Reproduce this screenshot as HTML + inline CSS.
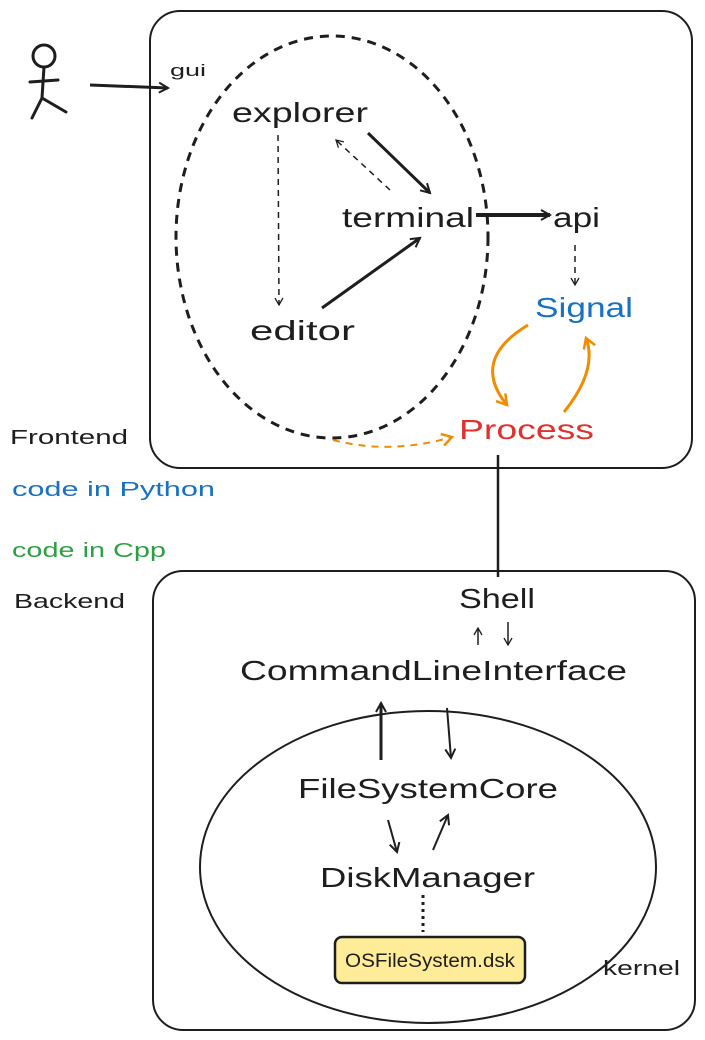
<!DOCTYPE html>
<html><head><meta charset="utf-8"><style>
html,body{margin:0;padding:0;background:#fff;}
svg{display:block;}
text{font-family:"Liberation Sans",sans-serif;fill:#1e1e1e;}
</style></head><body>
<svg width="705" height="1040" viewBox="0 0 705 1040" xmlns="http://www.w3.org/2000/svg">
<defs>
<marker id="ah" markerWidth="12" markerHeight="12" refX="10" refY="6" orient="auto" markerUnits="userSpaceOnUse">
<path d="M1,1 L10,6 L1,11" fill="none" stroke="#1e1e1e" stroke-width="2"/></marker>
<marker id="ahs" markerWidth="10" markerHeight="10" refX="8" refY="5" orient="auto" markerUnits="userSpaceOnUse">
<path d="M1,1 L8,5 L1,9" fill="none" stroke="#1e1e1e" stroke-width="1.3"/></marker>
<marker id="aho" markerWidth="14" markerHeight="14" refX="11" refY="7" orient="auto" markerUnits="userSpaceOnUse">
<path d="M1,1 L11,7 L1,13" fill="none" stroke="#f08c00" stroke-width="2.5"/></marker>
</defs>

<!-- stick figure -->
<g stroke="#1e1e1e" stroke-width="3" fill="none" stroke-linecap="round">
<circle cx="44" cy="56" r="11"/>
<line x1="44" y1="67" x2="42" y2="98"/>
<line x1="30" y1="82" x2="58" y2="80"/>
<line x1="42" y1="98" x2="32" y2="118"/>
<line x1="42" y1="98" x2="66" y2="112"/>
</g>
<line x1="90" y1="85" x2="168" y2="88" stroke="#1e1e1e" stroke-width="3" marker-end="url(#ah)"/>

<!-- top frame -->
<rect x="150" y="11" width="542" height="457" rx="30" fill="none" stroke="#1e1e1e" stroke-width="2"/>
<line x1="150" y1="60" x2="150" y2="440" stroke="#1e1e1e" stroke-width="2"/>
<ellipse cx="332" cy="237" rx="156" ry="201" fill="none" stroke="#1e1e1e" stroke-width="3" stroke-dasharray="9 7"/>

<text x="170" y="76" font-size="17" textLength="36" lengthAdjust="spacingAndGlyphs">gui</text>
<text x="232" y="122" font-size="28" textLength="136" lengthAdjust="spacingAndGlyphs">explorer</text>
<text x="342" y="227" font-size="28" textLength="132" lengthAdjust="spacingAndGlyphs">terminal</text>
<text x="553" y="227" font-size="28" textLength="47" lengthAdjust="spacingAndGlyphs">api</text>
<text x="535" y="317" font-size="28" textLength="98" lengthAdjust="spacingAndGlyphs" style="fill:#1971c2">Signal</text>
<text x="250" y="340" font-size="28" textLength="105" lengthAdjust="spacingAndGlyphs">editor</text>
<text x="459" y="439" font-size="28" textLength="135" lengthAdjust="spacingAndGlyphs" style="fill:#e03131">Process</text>

<text x="10" y="444" font-size="20" textLength="118" lengthAdjust="spacingAndGlyphs">Frontend</text>
<text x="12" y="496" font-size="20" textLength="203" lengthAdjust="spacingAndGlyphs" style="fill:#1971c2">code in Python</text>
<text x="12" y="557" font-size="20" textLength="154" lengthAdjust="spacingAndGlyphs" style="fill:#2f9e44">code in Cpp</text>
<text x="14" y="608" font-size="20" textLength="111" lengthAdjust="spacingAndGlyphs">Backend</text>

<!-- top arrows -->
<line x1="368" y1="133" x2="430" y2="193" stroke="#1e1e1e" stroke-width="3" marker-end="url(#ah)"/>
<line x1="390" y1="190" x2="336" y2="140" stroke="#1e1e1e" stroke-width="1.5" stroke-dasharray="6 5" marker-end="url(#ahs)"/>
<line x1="278" y1="135" x2="279" y2="305" stroke="#1e1e1e" stroke-width="1.5" stroke-dasharray="6 5" marker-end="url(#ahs)"/>
<line x1="322" y1="308" x2="420" y2="238" stroke="#1e1e1e" stroke-width="3" marker-end="url(#ah)"/>
<line x1="476" y1="215" x2="550" y2="215" stroke="#1e1e1e" stroke-width="4" marker-end="url(#ah)"/>
<line x1="575" y1="245" x2="575" y2="285" stroke="#1e1e1e" stroke-width="1.5" stroke-dasharray="6 5" marker-end="url(#ahs)"/>
<path d="M528,325 Q470,360 507,405" fill="none" stroke="#f08c00" stroke-width="3" marker-end="url(#aho)"/>
<path d="M564,412 Q598,370 586,338" fill="none" stroke="#f08c00" stroke-width="3" marker-end="url(#aho)"/>
<path d="M333,440 Q390,455 452,437" fill="none" stroke="#f08c00" stroke-width="2" stroke-dasharray="7 6" marker-end="url(#aho)"/>

<line x1="498" y1="455" x2="498" y2="577" stroke="#1e1e1e" stroke-width="2.5"/>

<!-- bottom frame -->
<rect x="153" y="571" width="542" height="459" rx="30" fill="none" stroke="#1e1e1e" stroke-width="2"/>
<ellipse cx="428" cy="867" rx="228" ry="156" fill="none" stroke="#1e1e1e" stroke-width="2"/>

<text x="459" y="608" font-size="28" textLength="76" lengthAdjust="spacingAndGlyphs">Shell</text>
<text x="240" y="680" font-size="28" textLength="387" lengthAdjust="spacingAndGlyphs">CommandLineInterface</text>
<text x="298" y="798" font-size="28" textLength="260" lengthAdjust="spacingAndGlyphs">FileSystemCore</text>
<text x="320" y="887" font-size="28" textLength="215" lengthAdjust="spacingAndGlyphs">DiskManager</text>
<text x="603" y="975" font-size="20" textLength="77" lengthAdjust="spacingAndGlyphs">kernel</text>

<line x1="478" y1="645" x2="478" y2="628" stroke="#1e1e1e" stroke-width="1.5" marker-end="url(#ahs)"/>
<line x1="508" y1="622" x2="508" y2="645" stroke="#1e1e1e" stroke-width="1.5" marker-end="url(#ahs)"/>
<line x1="381" y1="760" x2="381" y2="703" stroke="#1e1e1e" stroke-width="3" marker-end="url(#ah)"/>
<line x1="447" y1="708" x2="451" y2="758" stroke="#1e1e1e" stroke-width="2" marker-end="url(#ah)"/>
<line x1="388" y1="820" x2="397" y2="852" stroke="#1e1e1e" stroke-width="2" marker-end="url(#ah)"/>
<line x1="433" y1="850" x2="448" y2="815" stroke="#1e1e1e" stroke-width="2" marker-end="url(#ah)"/>

<line x1="423" y1="895" x2="423" y2="932" stroke="#1e1e1e" stroke-width="3" stroke-dasharray="3 4"/>
<rect x="335" y="937" width="190" height="46" rx="7" fill="#ffec99" stroke="#1e1e1e" stroke-width="2.5"/>
<text x="345" y="967" font-size="19" textLength="170" lengthAdjust="spacingAndGlyphs">OSFileSystem.dsk</text>
</svg>
</body></html>
